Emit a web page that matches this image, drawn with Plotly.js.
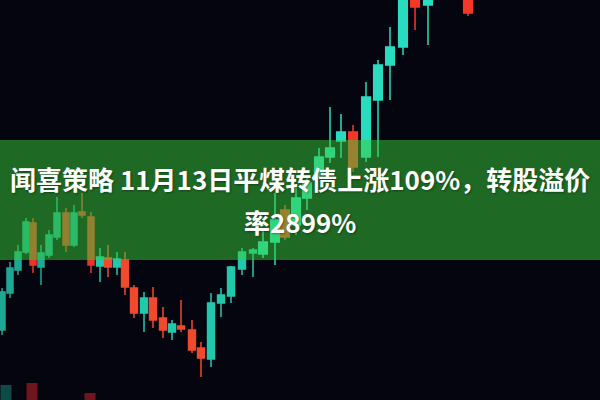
<!DOCTYPE html>
<html>
<head>
<meta charset="utf-8">
<script src="https://cdn.plot.ly/plotly-3.0.1.min.js"></script>
<style>
  html, body { margin: 0; padding: 0; background: #05050f; }
  #chart { width: 600px; height: 400px; }
</style>
</head>
<body>
<div id="chart"></div>
<script>
// ---- Data (far / middle / near groups of the K-line) ----
const farT     = [2, 10, 18, 26, 33, 41, 49, 57, 66, 74, 82, 91];
const farOpen  = [70, 107, 130, 148, 177, 133, 145, 163, 187, 155, 188, 183];
const farHigh  = [112, 138, 155, 182, 182, 155, 170, 203, 192, 195, 207, 188];
const farLow   = [65, 102, 125, 146, 127, 115, 142, 160, 148, 153, 182, 127];
const farClose = [108, 132, 148, 178, 135, 147, 165, 187, 155, 187, 185, 135];

const midT     = [100, 108, 117, 125, 134, 144, 153, 163, 172, 181, 192, 201, 211, 221, 231, 242, 253];
const midOpen  = [134, 142, 133, 140, 112, 87, 102, 82, 68, 74, 70, 52, 41, 97, 104, 131, 147];
const midHigh  = [152, 155, 148, 148, 115, 108, 113, 93, 80, 100, 80, 58, 107, 112, 134, 152, 152];
const midLow   = [118, 123, 125, 105, 82, 68, 72, 62, 60, 68, 47, 23, 33, 83, 97, 125, 123];
const midClose = [143, 133, 141, 113, 87, 102, 80, 70, 76, 71, 50, 42, 97, 105, 133, 148, 150];

const nearT     = [263, 275, 285, 296, 307, 319, 330, 341, 353, 366, 378, 390, 403, 415, 428, 468];
const nearOpen  = [146, 158, 190, 175, 202, 228, 243, 259, 268, 243, 300, 335, 353, 420, 395, 420];
const nearHigh  = [170, 207, 195, 215, 222, 252, 293, 286, 275, 318, 340, 373, 415, 425, 420, 425];
const nearLow   = [142, 135, 160, 165, 190, 222, 237, 242, 228, 238, 243, 300, 345, 370, 355, 384];
const nearClose = [158, 180, 163, 202, 217, 243, 252, 268, 233, 303, 335, 353, 410, 393, 415, 387];

// blurred foreground candles at the bottom edge
const fgT      = [6, 32, 90];
const fgHeight = [15, 17, 7];

const titleLine1 = "闻喜策略 11月13日平煤转债上涨109%，转股溢价";
const titleLine2 = "率2899%";

function candle(t, o, h, l, c, axis, up, down) {
  return {
    type: "candlestick",
    x: t, open: o, high: h, low: l, close: c,
    xaxis: axis, yaxis: "y",
    increasing: { line: { color: up, width: 1.5 }, fillcolor: up },
    decreasing: { line: { color: down, width: 1.5 }, fillcolor: down },
    whiskerwidth: 0,
    hoverinfo: "skip",
    showlegend: false
  };
}

const traces = [
  candle(farT, farOpen, farHigh, farLow, farClose, "x", "#1ea894", "#e8352a"),
  candle(midT, midOpen, midHigh, midLow, midClose, "x2", "#22c8ad", "#f04a2e"),
  candle(nearT, nearOpen, nearHigh, nearLow, nearClose, "x3", "#2adcbf", "#f3382a"),
  {
    type: "bar", x: fgT, y: fgHeight, base: [0, 0, 0], width: 11,
    xaxis: "x", yaxis: "y",
    marker: { color: ["#137a6c", "#b4202a", "#b4202a"], line: { width: 0 } },
    opacity: 0.6, hoverinfo: "skip", showlegend: false
  }
];

const hiddenX = { range: [0, 600], visible: false, fixedrange: true, rangeslider: { visible: false } };

const layout = {
  width: 600, height: 400,
  margin: { l: 0, r: 0, t: 0, b: 0 },
  paper_bgcolor: "#05050f",
  plot_bgcolor: "#05050f",
  showlegend: false,
  boxgap: 0.14, boxgroupgap: 0,
  xaxis: Object.assign({}, hiddenX),
  xaxis2: Object.assign({ overlaying: "x" }, hiddenX),
  xaxis3: Object.assign({ overlaying: "x" }, hiddenX),
  yaxis: { range: [0, 400], visible: false, fixedrange: true },
  shapes: [{
    type: "rect", xref: "paper", yref: "paper",
    x0: 0, x1: 1, y0: 0.35, y1: 0.65,
    fillcolor: "rgba(55,205,55,0.5)", line: { width: 0 }, layer: "above"
  }],
  annotations: [
    {
      xref: "paper", yref: "paper", x: 0.5, y: 0.554,
      xanchor: "center", yanchor: "middle", showarrow: false,
      text: titleLine1,
      font: { family: "Noto Sans CJK SC, Noto Sans, sans-serif", size: 26, color: "#ffffff", weight: 700,
              shadow: "1px 1px 2px rgba(0,0,0,0.35)" }
    },
    {
      xref: "paper", yref: "paper", x: 0.5, y: 0.4475,
      xanchor: "center", yanchor: "middle", showarrow: false,
      text: titleLine2,
      font: { family: "Noto Sans CJK SC, Noto Sans, sans-serif", size: 26, color: "#ffffff", weight: 700,
              shadow: "1px 1px 2px rgba(0,0,0,0.35)" }
    }
  ]
};

Plotly.newPlot("chart", traces, layout, { staticPlot: true, displayModeBar: false });
</script>
</body>
</html>
